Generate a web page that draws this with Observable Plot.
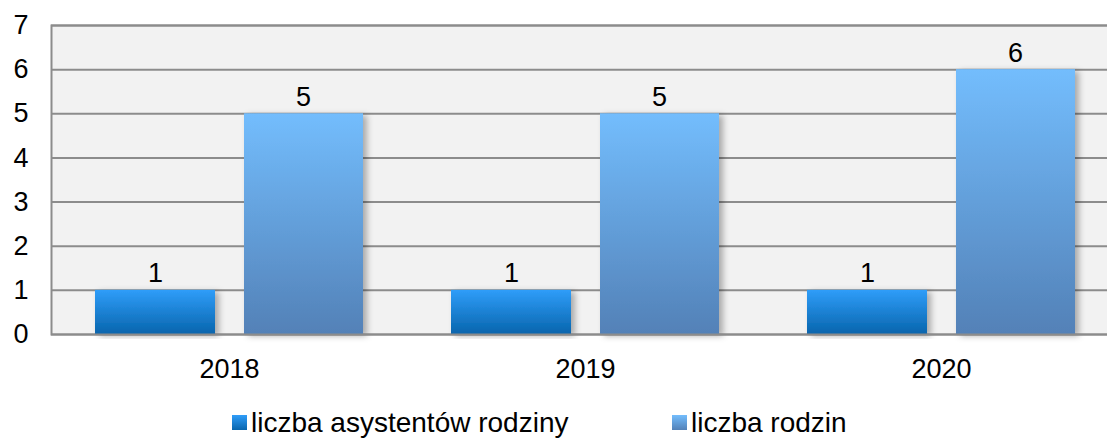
<!DOCTYPE html>
<html>
<head>
<meta charset="utf-8">
<script src="https://cdn.jsdelivr.net/npm/d3@7"></script>
<script src="https://cdn.jsdelivr.net/npm/@observablehq/plot@0.6"></script>
<style>
  html, body { margin: 0; padding: 0; background: #fff; }
  #chart { width: 1107px; overflow: hidden; }
  svg { display: block; }
</style>
</head>
<body>
<div id="chart"></div>
<script>
const years = ["2018", "2019", "2020"];
const seriesNames = ["liczba asystentów rodziny", "liczba rodzin"];
const asystenci = [1, 1, 1];
const rodziny = [5, 5, 6];
const yTicks = [0, 1, 2, 3, 4, 5, 6, 7];

const d1 = years.map((year, i) => ({year, value: asystenci[i], series: seriesNames[0]}));
const d2 = years.map((year, i) => ({year, value: rodziny[i], series: seriesNames[1]}));

const FONT = "'Liberation Sans', Arial, Helvetica, sans-serif";
const GRID = "#8c8c8c";

const chart = Plot.plot({
  width: 1107,
  height: 395,
  marginLeft: 51,
  marginRight: -12,
  marginTop: 25,
  marginBottom: 61,
  style: {fontFamily: FONT, fontSize: "27px", color: "#000", background: "#fff", overflow: "hidden"},
  x: {domain: years, padding: 0, label: null, tickSize: 0, tickPadding: 24},
  y: {domain: [0, 7], ticks: yTicks, tickFormat: d3.format("d"), label: null, tickSize: 0, tickPadding: 23},
  marks: [
    Plot.frame({fill: "#f2f2f2", stroke: null}),
    Plot.ruleY(yTicks, {stroke: GRID, strokeWidth: 2}),
    Plot.barY(d1, {x: "year", y: "value", fill: "url(#g1)", insetLeft: 44, insetRight: 192}),
    Plot.barY(d2, {x: "year", y: "value", fill: "url(#g2)", insetLeft: 193, insetRight: 44}),
    Plot.text(d1, {x: "year", y: "value", text: d => String(d.value), dx: -74, dy: -8, lineAnchor: "bottom", fill: "#000", fontSize: 27}),
    Plot.text(d2, {x: "year", y: "value", text: d => String(d.value), dx: 74, dy: -8, lineAnchor: "bottom", fill: "#000", fontSize: 27}),
    Plot.frame({stroke: GRID, strokeWidth: 2, fill: null})
  ]
});

const svg = d3.select(chart);
const defs = svg.insert("defs", ":first-child");
function grad(id, top, bottom) {
  const g = defs.append("linearGradient").attr("id", id).attr("x1", 0).attr("y1", 0).attr("x2", 0).attr("y2", 1);
  g.append("stop").attr("offset", "0%").attr("stop-color", top);
  g.append("stop").attr("offset", "100%").attr("stop-color", bottom);
}
grad("g1", "#2f9df9", "#0865ad");
grad("g2", "#73bdfd", "#5381b7");
const f = defs.append("filter").attr("id", "shadow").attr("x", "-10%").attr("y", "-10%").attr("width", "130%").attr("height", "120%");
f.append("feDropShadow").attr("dx", 4).attr("dy", 2).attr("stdDeviation", 3)
  .attr("flood-color", "#000").attr("flood-opacity", 0.3);
svg.selectAll('g[aria-label="bar"]').attr("filter", "url(#shadow)");

document.getElementById("chart").appendChild(chart);

// legend
const leg = d3.select("#chart").append("svg")
  .attr("width", 1107).attr("height", 43)
  .style("font-family", FONT).style("font-size", "28px");
const legX = [232, 672];
seriesNames.forEach((name, i) => {
  leg.append("rect").attr("x", legX[i]).attr("y", 20).attr("width", 15).attr("height", 15)
    .attr("fill", i === 0 ? "url(#g1)" : "url(#g2)");
  leg.append("text").attr("x", legX[i] + 19).attr("y", 37).attr("fill", "#000").text(name);
});
</script>
</body>
</html>
